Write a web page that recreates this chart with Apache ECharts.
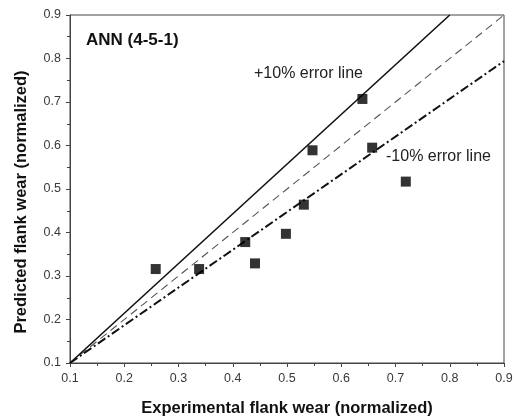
<!DOCTYPE html>
<html>
<head>
<meta charset="utf-8">
<script src="https://cdn.jsdelivr.net/npm/echarts@6/dist/echarts.min.js"></script>
<style>html,body{margin:0;padding:0;background:#fff;}#c{width:514px;height:419px;}</style>
</head>
<body>
<div id="c"></div>
<script>
var experimental = [0.258, 0.338, 0.423, 0.441, 0.498, 0.531, 0.547, 0.639, 0.657, 0.719];
var predicted    = [0.316, 0.316, 0.378, 0.329, 0.397, 0.464, 0.589, 0.707, 0.595, 0.517];
var idealLine    = [[0.1, 0.1], [0.9, 0.9]];
var plusLine     = [[0.1, 0.1], [0.8, 0.9]];
var minusLine    = [[0.1, 0.1], [0.9, 0.794]];
var axisMin = 0.1, axisMax = 0.9, axisStep = 0.1;

var chart = echarts.init(document.getElementById('c'), null, {renderer: 'canvas'});
var pts = experimental.map(function (x, i) { return [x, predicted[i]]; });
var font = 'Liberation Sans, Arial, sans-serif';
function axisCommon(name, isX) {
  return {
    type: 'value', min: axisMin, max: axisMax, interval: axisStep,
    name: name, nameLocation: 'middle',
    nameGap: isX ? 37 : 40,
    nameTextStyle: {fontFamily: font, fontSize: 16.5, fontWeight: 'bold', color: '#111',
                    padding: isX ? [0, 0, 0, 0] : [0, 26, 0, 0]},
    axisLine: {show: true, lineStyle: {color: '#444', width: 1}},
    axisTick: {show: true, inside: false, length: 4, lineStyle: {color: '#444'}},
    minorTick: {show: true, splitNumber: 2, length: 3, lineStyle: {color: '#444'}},
    splitLine: {show: false},
    axisLabel: {fontFamily: font, fontSize: 12.5, color: '#3a3a3a', margin: 9,
      formatter: function (v) { return (Math.round(v * 10) / 10).toFixed(1); }}
  };
}
chart.setOption({
  animation: false,
  backgroundColor: '#fff',
  grid: {left: 70, right: 10, top: 15, bottom: 56, containLabel: false, outerBoundsMode: 'none',
         show: true, borderColor: '#444', borderWidth: 1},
  xAxis: axisCommon('Experimental flank wear (normalized)', true),
  yAxis: axisCommon('Predicted flank wear (normalized)', false),
  series: [
    {type: 'line', data: idealLine, symbol: 'none', lineStyle: {color: '#555', width: 1.1, type: [8, 5]}, z: 2},
    {type: 'line', data: plusLine, symbol: 'none', lineStyle: {color: '#111', width: 1.6, type: 'solid'}, z: 2},
    {type: 'line', data: minusLine, symbol: 'none', lineStyle: {color: '#111', width: 2, type: [9, 3, 2, 3]}, z: 2},
    {type: 'scatter', data: pts, symbol: 'rect', symbolSize: 10, itemStyle: {color: '#000'}, z: 5}
  ],
  graphic: [
    {type: 'text', x: 86, y: 40, style: {text: 'ANN (4-5-1)', font: 'bold 17px ' + font, fill: '#111', verticalAlign: 'middle'}},
    {type: 'text', x: 254, y: 74, style: {text: '+10% error line', font: '16px ' + font, fill: '#222', verticalAlign: 'middle'}},
    {type: 'text', x: 386, y: 157, style: {text: '-10% error line', font: '16px ' + font, fill: '#222', verticalAlign: 'middle'}}
  ]
});
</script>
</body>
</html>
